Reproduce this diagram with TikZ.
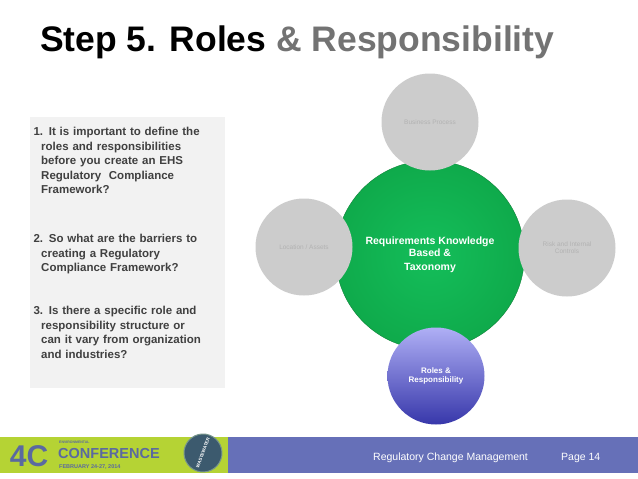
\documentclass[tikz,border=0pt]{standalone}
\usepackage{fontspec}
\setmainfont{Liberation Sans}
\begin{document}
\begin{tikzpicture}[x=1pt,y=-1pt,
 grey/.style={circle,fill=black!20,minimum size=97pt,inner sep=0pt,text=black!30,font=\fontsize{6.5}{7}\selectfont,align=center},
 body/.style={anchor=north west,font=\bfseries\fontsize{11.5}{14.5}\selectfont,text=black!75,align=left}]
\useasboundingbox (0,0) rectangle (638,479);
\fill[white] (0,0) rectangle (638,479);
\node[anchor=west,inner sep=0pt,font=\bfseries\fontsize{35.5}{38}\selectfont] (t) at (40,42) {Step 5. Roles \textcolor{black!55}{\& Responsibility}};
\fill[black!5] (30,117) rectangle (225,388);
\node[body,text width=195pt] (b1) at (30,124) {1. It is important to define the\\\ \ roles and responsibilities\\\ \ before you create an EHS\\\ \ Regulatory\ \ Compliance\\\ \ Framework?};
\node[body,text width=195pt] (b2) at (30,231) {2. So what are the barriers to\\\ \ creating a Regulatory\\\ \ Compliance Framework?};
\node[body,text width=195pt] (b3) at (30,303) {3. Is there a specific role and\\\ \ responsibility structure or\\\ \ can it vary from organization\\\ \ and industries?};
\node[circle,minimum size=189pt,inner sep=0pt,shading=radial,inner color={rgb,255:red,20;green,190;blue,90},outer color={rgb,255:red,15;green,170;blue,75},draw={rgb,255:red,10;green,120;blue,50},line width=0.3pt,text=white,font=\bfseries\fontsize{10.5}{12}\selectfont,align=center] (g) at (430,255) {Requirements Knowledge\\Based \&\\[2pt]Taxonomy};
\node[grey] (top) at (430,122) {Business Process};
\node[grey] (l) at (304,247) {Location / Assets};
\node[grey] (r) at (567,248) {Risk and Internal\\Controls};
\node[circle,minimum size=97pt,inner sep=0pt,top color={rgb,255:red,175;green,175;blue,245},bottom color={rgb,255:red,55;green,55;blue,170},text=white,font=\bfseries\fontsize{8}{9}\selectfont,align=center] (p) at (436,376) {Roles \&\\Responsibility};
\fill[white] (0,433) rectangle (638,479);
\fill[fill={rgb,255:red,102;green,112;blue,184}] (228,437) rectangle (638,473);
\fill[fill={rgb,255:red,181;green,211;blue,52}] (0,437) rectangle (228,473);
\node[inner sep=0pt,font=\fontsize{30}{30}\selectfont\bfseries,text={rgb,255:red,90;green,105;blue,160}] (fc) at (29,456) {4C};
\node[anchor=west,inner sep=0pt,font=\fontsize{3.5}{3.5}\selectfont\bfseries,text={rgb,255:red,90;green,105;blue,160}] (fe) at (59,442) {ENVIRONMENTAL};
\node[anchor=west,inner sep=0pt,font=\fontsize{14.5}{14.5}\selectfont\bfseries,text={rgb,255:red,90;green,105;blue,160}] (fn) at (58,453.5) {CONFERENCE};
\node[anchor=west,inner sep=0pt,font=\fontsize{5.5}{5.5}\selectfont\bfseries,text={rgb,255:red,90;green,105;blue,160}] (fd) at (59,467) {FEBRUARY 24-27, 2014};
\node[circle,fill={rgb,255:red,60;green,90;blue,110},draw={rgb,255:red,120;green,150;blue,140},line width=1pt,minimum size=38pt,inner sep=0pt,text=white,font=\fontsize{4.5}{4.5}\selectfont\bfseries,rotate=70] (w) at (203,453) {WASTEWATER};
\node[anchor=west,inner sep=0pt,text=white,font=\fontsize{10.5}{12}\selectfont] (rc) at (373,458) {Regulatory Change Management};
\node[anchor=west,inner sep=0pt,text=white,font=\fontsize{10.5}{12}\selectfont] (pg) at (561,458) {Page 14};
\end{tikzpicture}
\end{document}
